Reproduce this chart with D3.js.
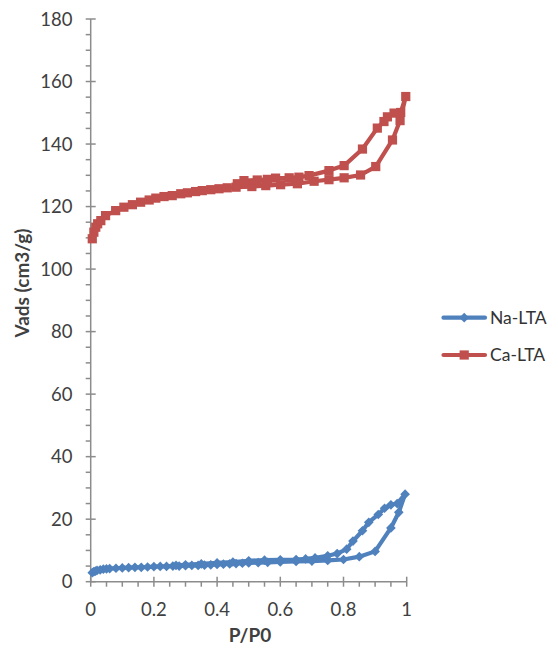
<!DOCTYPE html>
<html><head><meta charset="utf-8">
<script src="https://cdn.jsdelivr.net/npm/d3@7"></script>
<style>body{margin:0;background:#fff}svg{display:block}</style>
</head><body><svg id="c" width="558" height="655"></svg>
<script>
const seriesNames = ["Na-LTA", "Ca-LTA"];
const xTicks = [0, 0.2, 0.4, 0.6, 0.8, 1];
const yTicks = [0, 20, 40, 60, 80, 100, 120, 140, 160, 180];
const naP = [0.005,0.01,0.015,0.02,0.03,0.04,0.05,0.06,0.08,0.1,0.12,0.14,0.16,0.18,0.2,0.22,0.24,0.26,0.28,0.3,0.32,0.34,0.36,0.38,0.4,0.42,0.44,0.46,0.48,0.5,0.53,0.56,0.6,0.65,0.7,0.75,0.8,0.85,0.9,0.95,0.975,0.995,
  0.97,0.95,0.93,0.91,0.88,0.86,0.83,0.81,0.78,0.75,0.71,0.68,0.65,0.6,0.55,0.5,0.45,0.4,0.35,0.3,0.27];
const naV = [2.9,3.2,3.4,3.6,3.8,4.0,4.1,4.2,4.3,4.4,4.5,4.6,4.6,4.7,4.8,4.9,4.9,5.0,5.0,5.1,5.2,5.2,5.3,5.4,5.5,5.6,5.7,5.8,5.9,6.0,6.1,6.2,6.3,6.5,6.6,6.8,7.1,8.0,9.7,17.2,22.2,28.0,
  25.0,24.6,23.5,21.5,19.0,16.3,13.0,10.4,9.0,8.3,7.6,7.3,7.1,7.0,6.9,6.7,6.3,6.0,5.7,5.4,5.2];
const caP = [0.005,0.01,0.016,0.022,0.032,0.047,0.079,0.105,0.132,0.158,0.185,0.206,0.232,0.258,0.285,0.306,0.332,0.353,0.38,0.406,0.432,0.46,0.51,0.554,0.601,0.654,0.707,0.754,0.802,0.854,0.902,0.955,0.979,0.997,
  0.981,0.96,0.939,0.928,0.907,0.86,0.802,0.754,0.691,0.659,0.628,0.585,0.559,0.527,0.485,0.464];
const caV = [109.7,111.8,113.4,114.5,115.5,117.1,118.7,119.8,120.6,121.4,122.1,122.7,123.2,123.5,124.1,124.4,124.8,125.1,125.4,125.7,126.0,126.2,126.4,126.7,127.0,127.3,128.1,128.6,129.2,130.1,132.8,141.3,147.5,155.2,
  150.1,149.9,148.7,147.2,145.1,138.4,133.1,131.5,129.9,129.4,129.2,129.1,128.7,128.5,128.3,127.3];

const colors = ["#4F81BD", "#C0504D"];
const font = "Lato, 'Open Sans', sans-serif";
const svg = d3.select("#c");
const x = d3.scaleLinear().domain([0, 1]).range([90.7, 406.7]);
const y = d3.scaleLinear().domain([0, 180]).range([581.7, 19]);
const axisColor = "#8c8c8c";
const g = svg.append("g");

// Y axis
g.append("line").attr("x1", x(0)).attr("x2", x(0)).attr("y1", y(0)).attr("y2", y(180)).attr("stroke", axisColor).attr("stroke-width", 1.5);
d3.range(0, 181, 5).forEach(v => {
  const major = v % 20 === 0;
  g.append("line").attr("x1", x(0) - 5).attr("x2", major ? x(0) + 5 : x(0)).attr("y1", y(v)).attr("y2", y(v)).attr("stroke", axisColor).attr("stroke-width", 1.5);
});
yTicks.forEach(v => {
  g.append("text").attr("x", 72.5).attr("y", y(v)).attr("dy", "0.36em").attr("text-anchor", "end")
   .attr("font-family", font).attr("font-size", 18.5).attr("fill", "#404040").text(v);
});
// X axis
g.append("line").attr("x1", x(0)).attr("x2", x(1)).attr("y1", y(0)).attr("y2", y(0)).attr("stroke", axisColor).attr("stroke-width", 1.5);
d3.range(0, 21).forEach(i => {
  const p = i / 20;
  const major = i % 4 === 0;
  g.append("line").attr("x1", x(p)).attr("x2", x(p)).attr("y1", major ? y(0) - 5 : y(0)).attr("y2", y(0) + 5).attr("stroke", axisColor).attr("stroke-width", 1.5);
});
xTicks.forEach(p => {
  g.append("text").attr("x", x(p)).attr("y", 609).attr("dy", "0.36em").attr("text-anchor", "middle")
   .attr("font-family", font).attr("font-size", 18.5).attr("fill", "#404040").text(p);
});
// Axis titles
g.append("text").attr("x", 250).attr("y", 642).attr("text-anchor", "middle").attr("font-family", font)
 .attr("font-weight", "bold").attr("font-size", 19).attr("fill", "#404040").text("P/P0");
g.append("text").attr("transform", "translate(29,283) rotate(-90)").attr("text-anchor", "middle").attr("font-family", font)
 .attr("font-weight", "bold").attr("font-size", 19).attr("fill", "#404040").text("Vads (cm3/g)");

const line = d3.line().x(d => x(d[0])).y(d => y(d[1]));
const seriesData = [naP.map((p, i) => [p, naV[i]]), caP.map((p, i) => [p, caV[i]])];
const diamond = d3.symbol().type(d3.symbolDiamond2).size(60);
const square = d3.symbol().type(d3.symbolSquare).size(85);

seriesData.forEach((data, si) => {
  const sg = svg.append("g");
  sg.append("path").datum(data).attr("d", line).attr("fill", "none").attr("stroke", colors[si])
    .attr("stroke-width", 4.2).attr("stroke-linejoin", "round").attr("stroke-linecap", "round");
  sg.selectAll("path.m").data(data).enter().append("path").attr("class", "m")
    .attr("transform", d => `translate(${x(d[0])},${y(d[1])})`)
    .attr("d", si === 0 ? diamond : square).attr("fill", colors[si]);
});

// Legend
const legY = [317.7, 355];
seriesNames.forEach((name, i) => {
  const lg = svg.append("g");
  lg.append("line").attr("x1", 443.5).attr("x2", 485).attr("y1", legY[i]).attr("y2", legY[i]).attr("stroke", colors[i]).attr("stroke-width", 4.2).attr("stroke-linecap", "round");
  lg.append("path").attr("transform", `translate(464.2,${legY[i]})`).attr("d", i === 0 ? diamond : square).attr("fill", colors[i]);
  lg.append("text").attr("x", 490).attr("y", legY[i]).attr("dy", "0.36em").attr("font-family", font).attr("font-size", 17.5).attr("fill", "#333").text(name);
});
</script></body></html>
